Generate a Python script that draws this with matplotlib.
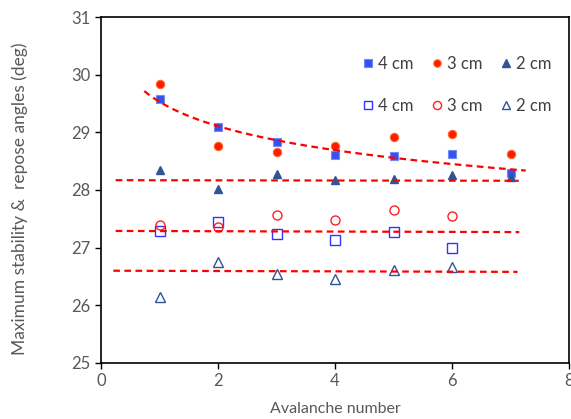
import numpy as np
import matplotlib
matplotlib.use("Agg")
import matplotlib.pyplot as plt

plt.rcParams['font.family'] = ['Lato', 'DejaVu Sans']

# Avalanche numbers
aval = [1, 2, 3, 4, 5, 6, 7]
aval_open = [1, 2, 3, 4, 5, 6]

# Maximum stability angles (filled markers)
stab_4cm = [29.58, 29.09, 28.83, 28.61, 28.59, 28.62, 28.29]
stab_3cm = [29.84, 28.76, 28.66, 28.76, 28.92, 28.97, 28.62]
stab_2cm = [28.35, 28.02, 28.28, 28.17, 28.19, 28.26, 28.23]

# Repose angles (open markers)
rep_4cm = [27.29, 27.45, 27.24, 27.14, 27.28, 27.00]
rep_3cm = [27.40, 27.35, 27.57, 27.48, 27.66, 27.55]
rep_2cm = [26.15, 26.75, 26.54, 26.45, 26.61, 26.66]

# Trend lines: power law y = a * x**b, and straight lines (start, end levels)
power_a, power_b = 29.53, -0.0208
power_range = (0.74, 7.26)
flat_levels = [(28.17, 28.16), (27.29, 27.27), (26.60, 26.58)]
flat_ranges = [(0.25, 7.14), (0.25, 7.15), (0.21, 7.12)]

c_sq = '#3a4ff0'
c_red = '#ff1a00'
c_tri = '#2f5597'
grey = '#595959'

fig = plt.figure(figsize=(5.71, 4.19), dpi=100)
ax = fig.add_axes([0.1769, 0.1337, 0.8196, 0.8257])

ms = 6
h1, = ax.plot(aval, stab_4cm, 's', color=c_sq, mec='#6f8cf5', mew=0.8, ms=ms, ls='none', label='4 cm', zorder=3)
h2, = ax.plot(aval, stab_3cm, 'o', color=c_red, mec='#ff6a2a', mew=0.8, ms=ms, ls='none', label='3 cm', zorder=3)
h3, = ax.plot(aval, stab_2cm, '^', color=c_tri, mec=c_tri, ms=ms, ls='none', label='2 cm', zorder=3)
h4, = ax.plot(aval_open, rep_4cm, 's', mfc='none', mec='#3333ff', mew=1.0, ms=ms + 0.5, ls='none', label='4 cm', zorder=3)
h5, = ax.plot(aval_open, rep_3cm, 'o', mfc='none', mec='#ff2020', mew=1.0, ms=ms + 0.5, ls='none', label='3 cm', zorder=3)
h6, = ax.plot(aval_open, rep_2cm, '^', mfc='none', mec=c_tri, mew=1.0, ms=ms + 0.5, ls='none', label='2 cm', zorder=3)

xs = np.linspace(*power_range, 200)
ax.plot(xs, power_a * xs ** power_b, color='#ff0000', ls=(0, (3, 2)), lw=1.6, zorder=4)
for (y0, y1), (x0, x1) in zip(flat_levels, flat_ranges):
    ax.plot([x0, x1], [y0, y1], color='#ff0000', ls=(0, (3, 2)), lw=1.6, zorder=4)

ax.set_xlim(0, 8)
ax.set_ylim(25, 31)
ax.set_xticks([0, 2, 4, 6, 8])
ax.set_yticks(range(25, 32))
ax.tick_params(direction='out', length=4, width=1, labelsize=12, labelcolor=grey, color='black')
for sp in ax.spines.values():
    sp.set_linewidth(1.2)
    sp.set_color('black')

ax.set_xlabel('Avalanche number', fontsize=11.5, color=grey)
ax.set_ylabel('Maximum stability &  repose angles (deg)', fontsize=12.5, color=grey)
ax.xaxis.set_label_coords(0.5, -0.114)
ax.yaxis.set_label_coords(-0.156, 0.474)

# column-wise fill: order handles so rows read filled / open
leg = ax.legend(handles=[h1, h4, h2, h5, h3, h6], ncol=3, frameon=False,
                loc='upper right', bbox_to_anchor=(0.995, 0.93), fontsize=12,
                handlelength=0.6, handletextpad=0.3, columnspacing=1.1,
                labelspacing=1.55, markerscale=0.9)
for t in leg.get_texts():
    t.set_color('#404040')

fig.savefig('out.png', dpi=100)
